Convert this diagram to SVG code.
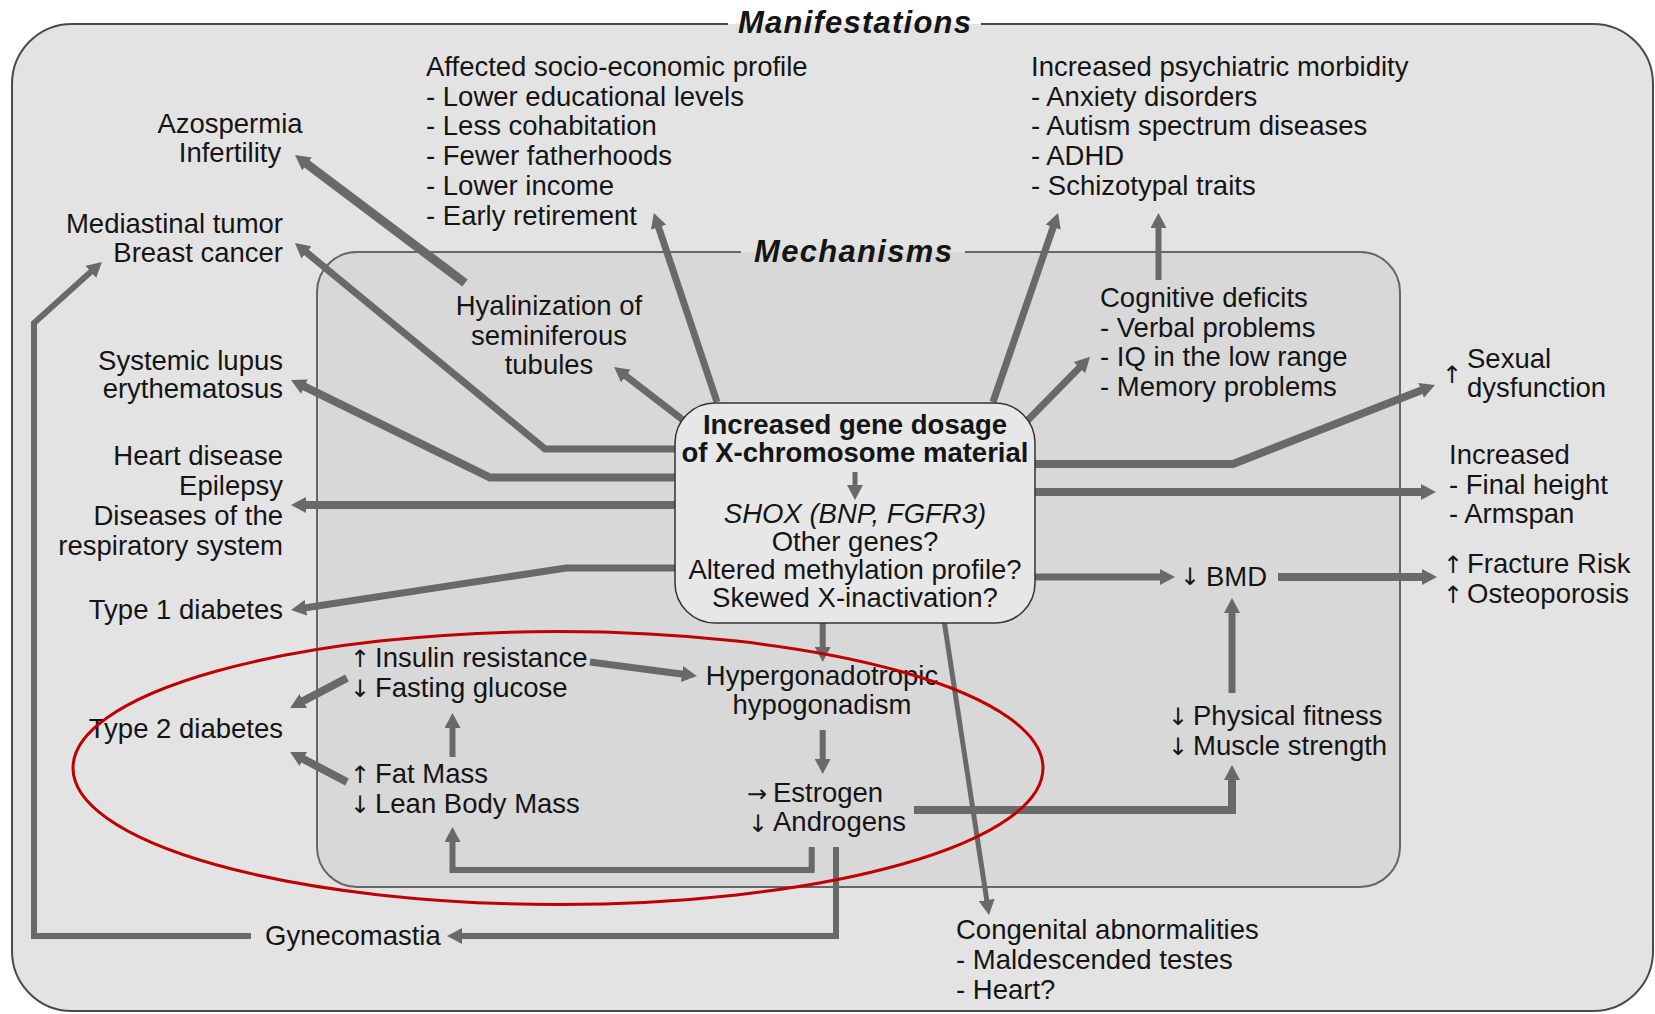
<svg xmlns="http://www.w3.org/2000/svg" width="1655" height="1014" viewBox="0 0 1655 1014">
<defs>
<marker id="ah" viewBox="0 0 15 16" refX="5" refY="8" markerWidth="15" markerHeight="16" markerUnits="userSpaceOnUse" orient="auto">
<path d="M0,0 L15,8 L0,16 Z" fill="#696969"/>
</marker>
<style>
.t{font-family:"Liberation Sans",Arial,sans-serif;font-size:27.5px;fill:#151515}
.c{text-anchor:middle}
.r{text-anchor:end}
.b{font-weight:bold}
.ti{font-family:"Liberation Sans",Arial,sans-serif;font-weight:bold;font-style:italic;font-size:31px;fill:#151515}
.ar{font-family:"DejaVu Sans",sans-serif;font-size:24px;fill:#151515;text-anchor:middle}
.ln{fill:none;stroke:#696969;stroke-linejoin:miter;marker-end:url(#ah)}
</style>
</defs>
<rect width="1655" height="1014" fill="#ffffff"/>
<g id="manifestations-frame">
<rect x="12" y="24" width="1641" height="987" rx="60" fill="#e3e3e3"/>
<path d="M981,24 H1593 A60,60 0 0 1 1653,84 V951 A60,60 0 0 1 1593,1011 H72 A60,60 0 0 1 12,951 V84 A60,60 0 0 1 72,24 H728" fill="none" stroke="#4a4a4a" stroke-width="2"/>
<text class="ti" x="738" y="33" textLength="233">Manifestations</text>
</g>
<g id="mechanisms-frame">
<rect x="317" y="252" width="1083" height="635" rx="40" fill="#d8d8d8"/>
<path d="M965,252 H1360 A40,40 0 0 1 1400,292 V847 A40,40 0 0 1 1360,887 H357 A40,40 0 0 1 317,847 V292 A40,40 0 0 1 357,252 H741" fill="none" stroke="#666" stroke-width="2"/>
<text class="ti" x="754" y="262" textLength="198">Mechanisms</text>
</g>
<g id="connectors">
<path class="ln" stroke-width="9" d="M465,283 L303,161"/>
<path class="ln" stroke-width="7" d="M690,449 H545 L302.7,249.3"/>
<path class="ln" stroke-width="8" d="M690,477.5 H490 L300,384.4"/>
<path class="ln" stroke-width="8" d="M690,505 H301"/>
<path class="ln" stroke-width="7" d="M690,568 H566 L301,608.5"/>
<path class="ln" stroke-width="7" d="M683,420 L622,373"/>
<path class="ln" stroke-width="7" d="M717,402 L657,222.5"/>
<path class="ln" stroke-width="7" d="M993,402 L1054.8,222.5"/>
<path class="ln" stroke-width="6" d="M1158.5,280 V223"/>
<path class="ln" stroke-width="7" d="M1026,422 L1083,364"/>
<path class="ln" stroke-width="8" d="M1020,464 H1233 L1425.7,388.6"/>
<path class="ln" stroke-width="8" d="M1020,492 H1426"/>
<path class="ln" stroke-width="7" d="M1020,577 H1165"/>
<path class="ln" stroke-width="8" d="M1278,577 H1427"/>
<path class="ln" stroke-width="7" d="M1232,693 V608"/>
<path class="ln" stroke-width="8" d="M914,810 H1232 V775"/>
<path class="ln" stroke-width="5" d="M944,620 L987.5,905"/>
<path class="ln" stroke-width="6" d="M822.7,620 V652"/>
<path class="ln" stroke-width="6" d="M822.7,730 V764"/>
<path class="ln" stroke-width="7" d="M590,662 L687,674.7"/>
<path class="ln" stroke-width="8" d="M347,678 L298.9,703.3"/>
<path class="ln" stroke-width="8" d="M347,782 L298.9,756.7"/>
<path class="ln" stroke-width="6" d="M452.5,757 V723"/>
<path class="ln" stroke-width="6" d="M811.7,847 V870 H452.5 V837"/>
<path class="ln" stroke-width="6" d="M836,847 V936 H457"/>
<path class="ln" stroke-width="6" d="M251,936 H34 V323 L94.5,268.6"/>
</g>
<g id="central">
<rect x="675" y="403" width="360" height="220" rx="40" fill="#e7e7e7" stroke="#333" stroke-width="1.5"/>
<text class="t c b" x="855" y="434" font-size="26">Increased gene dosage</text>
<text class="t c b" x="855" y="462" font-size="26.5">of X-chromosome material</text>
<path class="ln" stroke-width="5" d="M855,472 V490"/>
<text class="t c" x="855" y="522.5" font-size="24" font-style="italic">SHOX (BNP, FGFR3)</text>
<text class="t c" x="855" y="550.5" font-size="24">Other genes?</text>
<text class="t c" x="855" y="578.5" font-size="24">Altered methylation profile?</text>
<text class="t c" x="855" y="606.5" font-size="24">Skewed X-inactivation?</text>
</g>
<g id="socio-economic">
<text class="t" x="426" y="76">Affected socio-economic profile</text>
<text class="t" x="426" y="105.7">- Lower educational levels</text>
<text class="t" x="426" y="135.4">- Less cohabitation</text>
<text class="t" x="426" y="165.1">- Fewer fatherhoods</text>
<text class="t" x="426" y="194.8">- Lower income</text>
<text class="t" x="426" y="224.5">- Early retirement</text>
</g>
<g id="psychiatric">
<text class="t" x="1031" y="76">Increased psychiatric morbidity</text>
<text class="t" x="1031" y="105.7">- Anxiety disorders</text>
<text class="t" x="1031" y="135.4">- Autism spectrum diseases</text>
<text class="t" x="1031" y="165.1">- ADHD</text>
<text class="t" x="1031" y="194.8">- Schizotypal traits</text>
</g>
<g id="azospermia">
<text class="t c" x="230" y="133">Azospermia</text>
<text class="t c" x="230" y="162">Infertility</text>
</g>
<g id="mediastinal">
<text class="t r" x="283" y="233">Mediastinal tumor</text>
<text class="t r" x="283" y="262">Breast cancer</text>
</g>
<g id="lupus">
<text class="t r" x="283" y="370">Systemic lupus</text>
<text class="t r" x="283" y="398">erythematosus</text>
</g>
<g id="heart">
<text class="t r" x="283" y="465">Heart disease</text>
<text class="t r" x="283" y="495">Epilepsy</text>
<text class="t r" x="283" y="525">Diseases of the</text>
<text class="t r" x="283" y="555">respiratory system</text>
</g>
<g id="type1">
<text class="t r" x="283" y="619">Type 1 diabetes</text>
</g>
<g id="type2">
<text class="t r" x="283" y="738">Type 2 diabetes</text>
</g>
<g id="gynecomastia">
<text class="t" x="265" y="945">Gynecomastia</text>
</g>
<g id="congenital">
<text class="t" x="956" y="939">Congenital abnormalities</text>
<text class="t" x="956" y="969">- Maldescended testes</text>
<text class="t" x="956" y="999">- Heart?</text>
</g>
<g id="sexual">
<text class="ar" x="1452" y="383">↑</text>
<text class="t" x="1467" y="368">Sexual</text>
<text class="t" x="1467" y="397">dysfunction</text>
</g>
<g id="height">
<text class="t" x="1449" y="464">Increased</text>
<text class="t" x="1449" y="494">- Final height</text>
<text class="t" x="1449" y="523">- Armspan</text>
</g>
<g id="fracture">
<text class="ar" x="1453" y="573">↑</text>
<text class="t" x="1467" y="573">Fracture Risk</text>
<text class="ar" x="1453" y="603">↑</text>
<text class="t" x="1467" y="603">Osteoporosis</text>
</g>
<g id="hyalinization">
<text class="t c" x="549" y="315">Hyalinization of</text>
<text class="t c" x="549" y="344.5">seminiferous</text>
<text class="t c" x="549" y="374">tubules</text>
</g>
<g id="cognitive">
<text class="t" x="1100" y="307">Cognitive deficits</text>
<text class="t" x="1100" y="336.5">- Verbal problems</text>
<text class="t" x="1100" y="366">- IQ in the low range</text>
<text class="t" x="1100" y="395.5">- Memory problems</text>
</g>
<g id="bmd">
<text class="ar" x="1190" y="585">↓</text>
<text class="t" x="1206" y="586">BMD</text>
</g>
<g id="fitness">
<text class="ar" x="1178" y="725">↓</text>
<text class="t" x="1193" y="725">Physical fitness</text>
<text class="ar" x="1178" y="755">↓</text>
<text class="t" x="1193" y="755">Muscle strength</text>
</g>
<g id="insulin">
<text class="ar" x="360" y="667">↑</text>
<text class="t" x="375" y="667">Insulin resistance</text>
<text class="ar" x="360" y="697">↓</text>
<text class="t" x="375" y="697">Fasting glucose</text>
</g>
<g id="fatmass">
<text class="ar" x="360" y="783">↑</text>
<text class="t" x="375" y="783">Fat Mass</text>
<text class="ar" x="360" y="813">↓</text>
<text class="t" x="375" y="813">Lean Body Mass</text>
</g>
<g id="hypogonadism">
<text class="t c" x="822" y="685">Hypergonadotropic</text>
<text class="t c" x="822" y="714">hypogonadism</text>
</g>
<g id="hormones">
<text class="ar" x="757" y="802">→</text>
<text class="t" x="773" y="802">Estrogen</text>
<text class="ar" x="758" y="832">↓</text>
<text class="t" x="773" y="831">Androgens</text>
</g>
<g id="highlight">
<ellipse cx="558" cy="768" rx="485" ry="136.5" fill="none" stroke="#c00000" stroke-width="3"/>
</g>
</svg>
